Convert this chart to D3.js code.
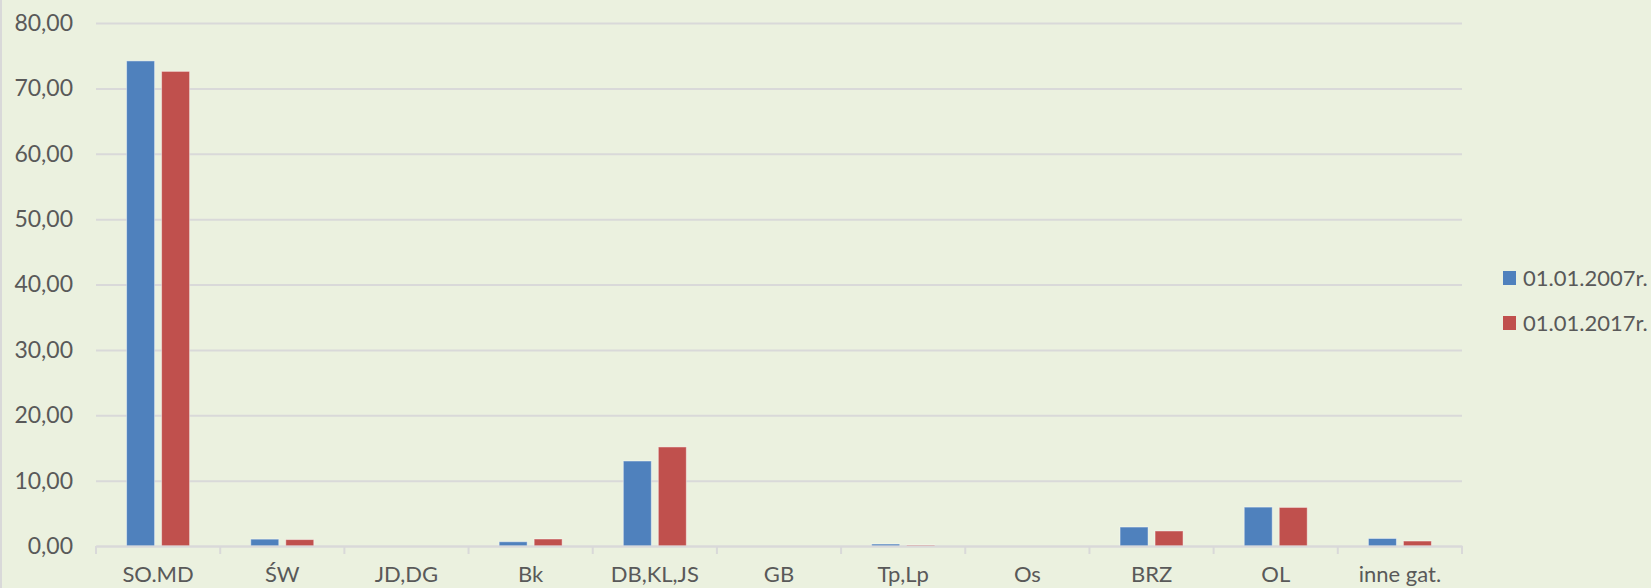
<!DOCTYPE html>
<html>
<head>
<meta charset="utf-8">
<script src="https://cdn.jsdelivr.net/npm/d3@7"></script>
<style>
  body { margin: 0; background: #ebf1df; }
  svg { display: block; }
  text { font-family: Lato, "Open Sans", sans-serif; fill: #595959; }
</style>
</head>
<body>
<div class="chart"></div>
<script>
const categories = ['SO.MD', 'ŚW', 'JD,DG', 'Bk', 'DB,KL,JS', 'GB', 'Tp,Lp', 'Os', 'BRZ', 'OL', 'inne gat.'];
const series = ['01.01.2007r.', '01.01.2017r.'];
const values2007 = [74.2, 1.05, 0, 0.65, 13.0, 0, 0.3, 0, 2.9, 5.95, 1.15];
const values2017 = [72.6, 0.98, 0, 1.07, 15.15, 0, 0.15, 0, 2.3, 5.9, 0.76];
const yTicks = [0, 10, 20, 30, 40, 50, 60, 70, 80];
const colors = ['#4f81bd', '#c0504d'];

const W = 1651, H = 588;
const margin = {top: 23, right: 189, bottom: 42, left: 96};
const width = W - margin.left - margin.right;
const height = H - margin.top - margin.bottom;

const root = d3.select('.chart')
    .append('svg')
        .attr('width', W)
        .attr('height', H);

root.append('rect')
    .attr('width', W)
    .attr('height', H)
    .style('fill', '#ebf1df');

// left border of the chart frame
root.append('line')
    .attr('x1', 1).attr('x2', 1)
    .attr('y1', 0).attr('y2', H)
    .style('stroke', '#d9d9d9')
    .style('stroke-width', 2);

let svg = root.append('g')
    .attr('transform', `translate(${margin.left}, ${margin.top})`);

let yScale = d3.scaleLinear()
    .domain([0, 80])
    .range([height, 0]);

let xScale = d3.scaleBand()
    .domain(categories)
    .range([0, width]);

let xSub = d3.scaleBand()
    .domain(series)
    .range([xScale.bandwidth() / 2 - 31.5, xScale.bandwidth() / 2 + 31.5])
    .paddingInner(0.2);

const fmt = d => d3.format('.2f')(d).replace('.', ',');

// gridlines + y labels
let yAxis = d3.axisLeft(yScale)
    .tickValues(yTicks)
    .tickSize(-width)
    .tickPadding(23)
    .tickFormat(fmt);
let gy = svg.append('g').call(yAxis);
gy.select('.domain').remove();
gy.selectAll('.tick line')
    .style('stroke', '#d9d9d9')
    .style('stroke-width', 2);
gy.selectAll('.tick text')
    .style('font-size', '23px');

// bars
const data = categories.map((c, i) => ({cat: c, vals: [values2007[i], values2017[i]]}));
let groups = svg.selectAll('.cat')
    .data(data)
    .enter().append('g')
    .attr('transform', d => `translate(${xScale(d.cat)}, 0)`);

groups.selectAll('rect')
    .data(d => d.vals.map((v, j) => ({s: series[j], v: v, j: j})))
    .enter().append('rect')
    .attr('x', d => xSub(d.s))
    .attr('width', xSub.bandwidth())
    .attr('y', d => yScale(d.v))
    .attr('height', d => yScale(0) - yScale(d.v))
    .style('fill', d => colors[d.j])
    .style('stroke', '#ffffff')
    .style('stroke-opacity', 0.45)
    .style('stroke-width', 1);

// x axis
let xAxis = d3.axisBottom(xScale)
    .tickSize(0)
    .tickPadding(20);
let gx = svg.append('g')
    .attr('transform', `translate(0, ${height})`)
    .call(xAxis);
gx.select('.domain')
    .style('stroke', '#d9d9d9')
    .style('stroke-width', 2);
gx.selectAll('.tick text')
    .style('font-size', '22px');

// category separator ticks
let boundaries = categories.map(c => xScale(c)).concat([width]);
gx.selectAll('.sep')
    .data(boundaries)
    .enter().append('line')
    .attr('x1', d => d).attr('x2', d => d)
    .attr('y1', 0).attr('y2', 8)
    .style('stroke', '#d9d9d9')
    .style('stroke-width', 2);

// legend
let legend = root.append('g')
    .attr('transform', 'translate(1503, 271)');
let items = legend.selectAll('g')
    .data(series)
    .enter().append('g')
    .attr('transform', (d, i) => `translate(0, ${i * 45})`);
items.append('rect')
    .attr('width', 13)
    .attr('height', 14)
    .style('fill', (d, i) => colors[i]);
items.append('text')
    .attr('x', 20)
    .attr('y', 15)
    .style('font-size', '22px')
    .text(d => d);
</script>
</body>
</html>
